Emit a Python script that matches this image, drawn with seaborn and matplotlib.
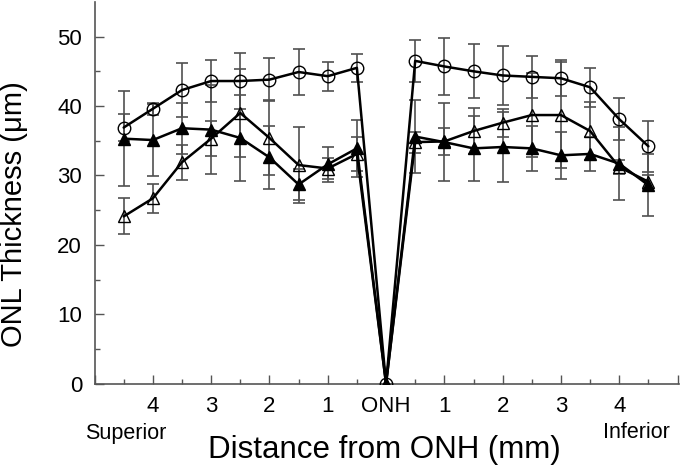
import matplotlib
matplotlib.use("Agg")
import matplotlib.pyplot as plt
import numpy as np
import pandas as pd
import seaborn as sns

# distance from ONH (mm); negative = superior, positive = inferior
distance = [-4.5, -4, -3.5, -3, -2.5, -2, -1.5, -1, -0.5, 0,
            0.5, 1, 1.5, 2, 2.5, 3, 3.5, 4, 4.5]

circle_mean = [36.9, 39.6, 42.3, 43.6, 43.6, 43.8, 44.9, 44.3, 45.5, 0,
               46.5, 45.7, 45.0, 44.4, 44.2, 44.0, 42.7, 38.1, 34.2]
circle_err = [1.9, 0.9, 3.9, 3.0, 4.0, 3.1, 3.3, 2.1, 2.0, 0,
              3.0, 4.1, 3.9, 4.3, 3.0, 2.6, 2.8, 3.0, 3.7]

filled_mean = [35.3, 35.1, 36.8, 36.6, 35.4, 32.6, 28.7, 31.6, 33.9, 0,
               35.6, 34.8, 33.9, 34.1, 33.9, 32.9, 33.1, 31.7, 28.6]
filled_err = [6.8, 5.2, 3.7, 6.4, 6.2, 4.5, 2.3, 2.5, 4.1, 0,
              5.2, 5.6, 4.7, 5.0, 3.2, 3.4, 2.4, 5.3, 4.5]

open_mean = [24.1, 26.7, 31.9, 35.3, 39.0, 35.4, 31.5, 31.0, 33.1, 0,
             34.8, 34.9, 36.4, 37.6, 38.7, 38.7, 36.4, 31.2, 29.1]
open_err = [2.6, 2.1, 2.5, 2.5, 6.3, 5.4, 5.5, 1.5, 2.5, 0,
            1.5, 2.0, 3.3, 2.0, 6.0, 7.6, 4.2, 1.0, 1.0]

tick_pos = [-5, -4, -3, -2, -1, 0, 1, 2, 3, 4, 5]
tick_labels = ["", "4", "3", "2", "1", "ONH", "1", "2", "3", "4", ""]

sns.set_theme(style="ticks")
plt.rcParams["font.family"] = ["Liberation Sans", "DejaVu Sans"]
plt.rcParams["text.color"] = "black"
plt.rcParams["axes.labelcolor"] = "black"

fig = plt.figure(figsize=(6.8, 4.68), dpi=100)
ax = fig.add_axes([0.139, 0.180, 0.860, 0.816])

series = [
    (circle_mean, circle_err, dict(marker="o", markersize=9, markerfacecolor="none")),
    (filled_mean, filled_err, dict(marker="^", markersize=9, markerfacecolor="black")),
    (open_mean, open_err, dict(marker="^", markersize=9, markerfacecolor="none")),
]

for mean, err, style in series:
    ax.errorbar(distance, mean, yerr=err, fmt="none", ecolor="#505050",
                elinewidth=1.2, capsize=4, capthick=1.2, zorder=2)

for mean, err, style in series:
    df = pd.DataFrame({"distance": distance, "thickness": mean})
    sns.lineplot(data=df, x="distance", y="thickness", ax=ax, color="black",
                 linewidth=1.8, markeredgecolor="black", markeredgewidth=1.0,
                 zorder=3, **style)

ax.set_xlim(-4.99, 5.03)
ax.set_ylim(0, 55)
ax.set_xticks(tick_pos)
ax.set_xticklabels(tick_labels)
ax.set_xticks(np.arange(-4.5, 5, 1.0), minor=True)
ax.set_yticks([0, 10, 20, 30, 40, 50])
ax.set_yticks([5, 15, 25, 35, 45], minor=True)

sns.despine(ax=ax)
for side in ["left", "bottom"]:
    ax.spines[side].set_color("#555555")
    ax.spines[side].set_linewidth(1.2)

ax.tick_params(which="both", direction="in", color="#555555", width=1.0,
               labelcolor="black")
ax.tick_params(which="major", length=6.5, labelsize=16, pad=9)
ax.tick_params(which="minor", length=3.5)

ax.set_xlabel("Distance from ONH (mm)", fontsize=22.5, va="top")
ax.xaxis.set_label_coords(0.496, -0.135)
ax.set_ylabel("ONL Thickness (\u03bcm)", fontsize=21)
ax.yaxis.set_label_coords(-0.113, 0.445)

fig.text(126 / 680, 1 - 433 / 468, "Superior", fontsize=15.5, ha="center", va="center")
fig.text(636 / 680, 1 - 433 / 468, "Inferior", fontsize=15.5, ha="center", va="center")

fig.savefig("out.png", dpi=100)
